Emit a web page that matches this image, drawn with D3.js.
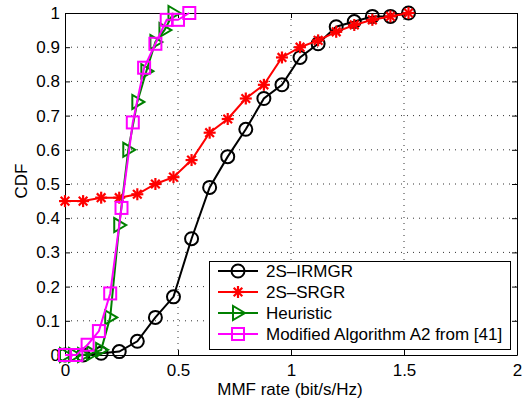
<!DOCTYPE html>
<html><head><meta charset="utf-8">
<script src="https://cdn.jsdelivr.net/npm/d3@7"></script>
<style>html,body{margin:0;padding:0;background:#fff;}svg{display:block;}</style>
</head><body>
<script>
// Data
const irmgrX = [0, 0.08, 0.16, 0.24, 0.32, 0.40, 0.48, 0.56, 0.64, 0.72, 0.80, 0.88, 0.96, 1.04, 1.12, 1.20, 1.28, 1.36, 1.44, 1.52];
const irmgrY = [0, 0, 0.005, 0.01, 0.04, 0.11, 0.17, 0.34, 0.49, 0.58, 0.66, 0.75, 0.79, 0.87, 0.91, 0.96, 0.975, 0.99, 0.99, 1.0];
const srgrX = [0, 0.08, 0.16, 0.24, 0.32, 0.40, 0.48, 0.56, 0.64, 0.72, 0.80, 0.88, 0.96, 1.04, 1.12, 1.20, 1.28, 1.36, 1.44, 1.52];
const srgrY = [0.45, 0.45, 0.46, 0.46, 0.47, 0.50, 0.52, 0.57, 0.65, 0.69, 0.75, 0.79, 0.87, 0.90, 0.92, 0.945, 0.965, 0.98, 0.99, 1.0];
const heurX = [0, 0.04, 0.08, 0.12, 0.16, 0.20, 0.24, 0.28, 0.32, 0.36, 0.40, 0.44, 0.48];
const heurY = [0, 0, 0, 0.005, 0.015, 0.11, 0.38, 0.60, 0.74, 0.83, 0.915, 0.95, 1.0];
const modX = [0, 0.05, 0.10, 0.15, 0.20, 0.25, 0.30, 0.35, 0.40, 0.45, 0.50, 0.55];
const modY = [0, 0, 0.03, 0.07, 0.18, 0.43, 0.68, 0.84, 0.91, 0.98, 0.98, 1.0];
const seriesNames = ["2S\u2013IRMGR", "2S\u2013SRGR", "Heuristic", "Modified Algorithm A2 from [41]"];
const seriesColors = ["#000000", "#ff0000", "#008000", "#ff00ff"];
const seriesMarkers = ["circle", "star", "triangle", "square"];
const xTicks = [0, 0.5, 1, 1.5, 2];
const xTickLabels = ["0", "0.5", "1", "1.5", "2"];
const yTicks = [0, 0.1, 0.2, 0.3, 0.4, 0.5, 0.6, 0.7, 0.8, 0.9, 1];
const yTickLabels = ["0", "0.1", "0.2", "0.3", "0.4", "0.5", "0.6", "0.7", "0.8", "0.9", "1"];
const xLabel = "MMF rate (bit/s/Hz)";
const yLabel = "CDF";

const W = 526, H = 401;
const m = {left: 65, top: 13, right: 517, bottom: 355};
const font = "'Liberation Sans', Arial, Helvetica, sans-serif";
const fs = 17;
const fsLabel = 17;

const x = d3.scaleLinear().domain([0, 2]).range([m.left, m.right]);
const y = d3.scaleLinear().domain([0, 1]).range([m.bottom, m.top]);

const svg = d3.select("body").append("svg").attr("width", W).attr("height", H)
  .style("font-family", font);
svg.append("rect").attr("width", W).attr("height", H).attr("fill", "#fff");

// grid
const grid = svg.append("g");
grid.selectAll(".gx").data(xTicks.filter(t => t > 0 && t < 2)).enter().append("line")
  .attr("x1", d => x(d)).attr("x2", d => x(d)).attr("y1", m.top).attr("y2", m.bottom)
  .attr("stroke", "#333").attr("stroke-width", 1).attr("stroke-dasharray", "1,5");
grid.selectAll(".gy").data(yTicks.filter(t => t > 0 && t < 1)).enter().append("line")
  .attr("y1", d => y(d)).attr("y2", d => y(d)).attr("x1", m.left).attr("x2", m.right)
  .attr("stroke", "#333").attr("stroke-width", 1).attr("stroke-dasharray", "1,5");

// axes with inward ticks
const tl = 5;
const xAxisB = d3.axisBottom(x).tickValues(xTicks).tickFormat((d, i) => xTickLabels[i]).tickSizeInner(-tl).tickSizeOuter(0).tickPadding(9);
const xAxisT = d3.axisTop(x).tickValues(xTicks).tickFormat("").tickSizeInner(-tl).tickSizeOuter(0);
const yAxisL = d3.axisLeft(y).tickValues(yTicks).tickFormat((d, i) => yTickLabels[i]).tickSizeInner(-tl).tickSizeOuter(0).tickPadding(5);
const yAxisR = d3.axisRight(y).tickValues(yTicks).tickFormat("").tickSizeInner(-tl).tickSizeOuter(0);

function styleAxis(g) {
  g.selectAll("path").attr("stroke", "#000").attr("stroke-width", 1);
  g.selectAll("line").attr("stroke", "#000").attr("stroke-width", 1);
  g.selectAll("text").attr("fill", "#000").style("font-size", fs + "px").style("font-family", font);
}
svg.append("g").attr("transform", `translate(0,${m.bottom})`).call(xAxisB).call(styleAxis);
svg.append("g").attr("transform", `translate(0,${m.top})`).call(xAxisT).call(styleAxis);
svg.append("g").attr("transform", `translate(${m.left},0)`).call(yAxisL).call(styleAxis);
svg.append("g").attr("transform", `translate(${m.right},0)`).call(yAxisR).call(styleAxis);

// labels
svg.append("text").attr("x", (m.left + m.right) / 2 - 1).attr("y", 395).attr("text-anchor", "middle")
  .style("font-size", fsLabel + "px").text(xLabel);
svg.append("text").attr("transform", `translate(27,${(m.top + m.bottom) / 2 - 3}) rotate(-90)`)
  .attr("text-anchor", "middle").style("font-size", fsLabel + "px").text(yLabel);

// markers
function drawMarker(g, type, cx, cy, color) {
  const s = 6.5;
  if (type === "circle") {
    g.append("circle").attr("cx", cx).attr("cy", cy).attr("r", s)
      .attr("fill", "none").attr("stroke", color).attr("stroke-width", 2);
  } else if (type === "square") {
    g.append("rect").attr("x", cx - 6).attr("y", cy - 6).attr("width", 12).attr("height", 12)
      .attr("fill", "none").attr("stroke", color).attr("stroke-width", 2);
  } else if (type === "triangle") {
    const p = [[cx + 7, cy], [cx - 5, cy - 7], [cx - 5, cy + 7]];
    g.append("path").attr("d", "M" + p.map(q => q.join(",")).join("L") + "Z")
      .attr("fill", "none").attr("stroke", color).attr("stroke-width", 2);
  } else if (type === "star") {
    const r = 6;
    const d = [
      [cx - r, cy, cx + r, cy], [cx, cy - r, cx, cy + r],
      [cx - r * 0.72, cy - r * 0.72, cx + r * 0.72, cy + r * 0.72],
      [cx - r * 0.72, cy + r * 0.72, cx + r * 0.72, cy - r * 0.72]
    ];
    d.forEach(l => g.append("line").attr("x1", l[0]).attr("y1", l[1]).attr("x2", l[2]).attr("y2", l[3])
      .attr("stroke", color).attr("stroke-width", 2.2));
  }
}

const series = [
  {xs: irmgrX, ys: irmgrY},
  {xs: srgrX, ys: srgrY},
  {xs: heurX, ys: heurY},
  {xs: modX, ys: modY}
];
const line = d3.line().x(d => x(d[0])).y(d => y(d[1]));
series.forEach((s, i) => {
  const g = svg.append("g");
  const pts = s.xs.map((v, j) => [v, s.ys[j]]);
  g.append("path").datum(pts).attr("d", line).attr("fill", "none")
    .attr("stroke", seriesColors[i]).attr("stroke-width", 2);
  pts.forEach(p => drawMarker(g, seriesMarkers[i], x(p[0]), y(p[1]), seriesColors[i]));
});

// legend
const lg = svg.append("g");
const lx0 = 209, ly0 = 261, lx1 = 510, ly1 = 349;
lg.append("rect").attr("x", lx0 + 0.5).attr("y", ly0 + 0.5).attr("width", lx1 - lx0).attr("height", ly1 - ly0)
  .attr("fill", "#fff").attr("stroke", "#000").attr("stroke-width", 1);
seriesNames.forEach((name, i) => {
  const cy = 271 + i * 21;
  lg.append("line").attr("x1", 218).attr("x2", 258).attr("y1", cy).attr("y2", cy)
    .attr("stroke", seriesColors[i]).attr("stroke-width", 2);
  drawMarker(lg, seriesMarkers[i], 238, cy, seriesColors[i]);
  lg.append("text").attr("x", 266).attr("y", cy + 6).style("font-size", fs + "px").text(name);
});
</script>
</body></html>
